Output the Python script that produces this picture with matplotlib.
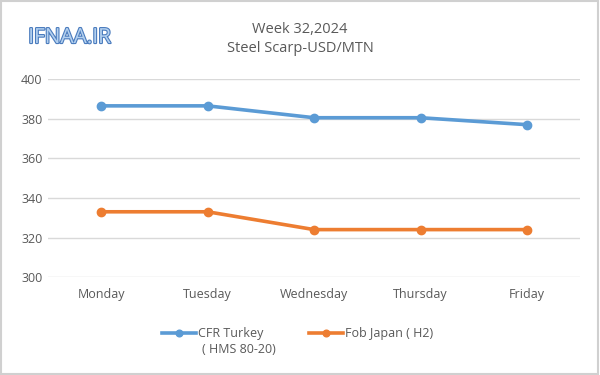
import matplotlib.pyplot as plt
import matplotlib.patheffects as pe

days = ['Monday', 'Tuesday', 'Wednesday', 'Thursday', 'Friday']
cfr_turkey = [386.5, 386.5, 380.5, 380.5, 377]
fob_japan = [333, 333, 324, 324, 324]
yticks = [300, 320, 340, 360, 380, 400]

plt.rcParams['font.family'] = ['Open Sans', 'DejaVu Sans']

fig = plt.figure(figsize=(6, 3.75), dpi=100)
ax = fig.add_axes([0.08, 0.261, 0.887, 0.528])

x = range(len(days))
ax.plot(x, cfr_turkey, color='#5b9bd5', lw=2.6, marker='o', ms=6,
        label='CFR Turkey')
ax.plot(x, fob_japan, color='#ed7d31', lw=2.6, marker='o', ms=6,
        label='Fob Japan ( H2)')

ax.set_xlim(-0.5, len(days) - 0.5)
ax.set_ylim(300, 400)
ax.set_yticks(yticks)
ax.set_xticks(list(x))
ax.set_xticklabels(days)
ax.grid(axis='y', color='#d9d9d9', lw=1)
ax.set_axisbelow(True)
for s in ax.spines.values():
    s.set_visible(False)
ax.tick_params(length=0, labelsize=9, colors='#595959', pad=8)
ax.tick_params(axis='y', pad=4)

fig.text(0.5, 0.922, 'Week 32,2024', ha='center', va='center', fontsize=10.5, color='#595959')
fig.text(0.5, 0.872, 'Steel Scarp-USD/MTN', ha='center', va='center', fontsize=10.5, color='#595959')
fig.text(0.047, 0.9, 'IFNAA.IR', ha='left', va='center', fontsize=15, color='#b3d0ef',
         path_effects=[pe.withStroke(linewidth=1.6, foreground='#4a7bbd')])

# legend: handles sit next to the first text line, second line below
leg = fig.legend(loc='center left', bbox_to_anchor=(0.262, 0.11), ncol=2, frameon=False,
                 fontsize=9, handlelength=2.7, handletextpad=0.2, columnspacing=3.6,
                 borderaxespad=0, markerscale=0.8)
for t in leg.get_texts():
    t.set_color('#595959')
fig.text(0.337, 0.068, '( HMS 80-20)', ha='left', va='center', fontsize=9, color='#595959')

fig.add_artist(plt.Rectangle((0.002, 0.003), 0.994, 0.994, transform=fig.transFigure,
                             fill=False, edgecolor='#d0d0d0', lw=1.5))

fig.savefig('out.png', dpi=100)
